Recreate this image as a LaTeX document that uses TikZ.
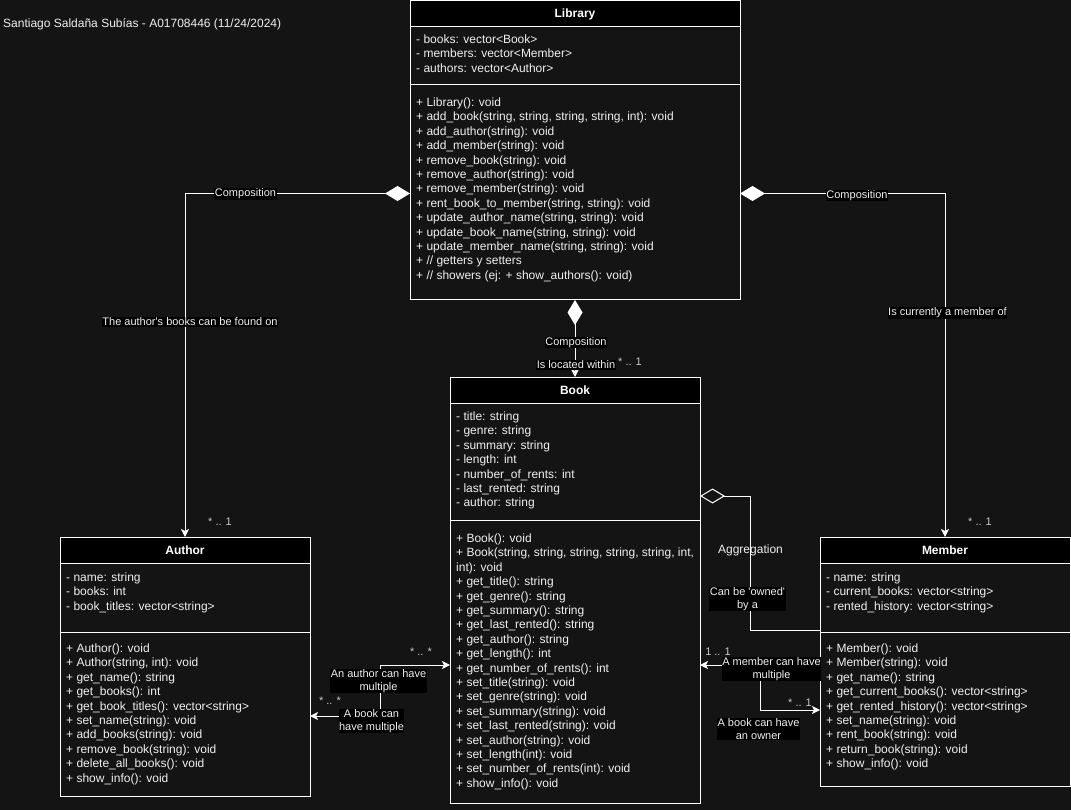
\documentclass[tikz,border=0pt]{standalone}
\usepackage{fontspec}
\setmainfont{Liberation Sans}
\usetikzlibrary{arrows.meta}

\definecolor{canvas}{HTML}{141414}
\definecolor{ink}{HTML}{F0F0F0}
\definecolor{mult}{HTML}{C8C8C8}

\tikzset{
  box/.style={draw=white, line width=1pt, fill=canvas, inner sep=0pt, outer sep=0pt, anchor=north west},
  hdr/.style={draw=white, line width=1pt, fill=black, inner sep=0pt, outer sep=0pt, anchor=north west, minimum height=26pt},
  ttl/.style={text=white, font=\fontsize{12}{14.4}\selectfont\bfseries, inner sep=0pt, yshift=-0.5pt},
  txt/.style={text=ink, font=\fontsize{12}{14.4}\selectfont, align=left, anchor=north west, inner sep=0pt, yshift=4.8pt},
  lbl/.style={fill=black, text=ink, font=\fontsize{11}{13}\selectfont, align=center, inner sep=0.5pt, yshift=-1pt},
  mul/.style={text=mult, font=\fontsize{11}{13}\selectfont, inner sep=0pt, yshift=-1pt},
  wire/.style={draw=white, line width=1pt},
  tip/.tip={Stealth[length=8pt,width=8pt,inset=2pt]},
  comp/.style={wire, {Diamond[length=25pt,width=15pt,fill=white]}-{tip}},
  aggr/.style={wire, {Diamond[open,length=25pt,width=15pt]}-},
  dual/.style={wire, {tip}-{tip}},
}

\begin{document}
\begin{tikzpicture}[x=1pt,y=-1pt]
\useasboundingbox (0,0) rectangle (1071,810);
\fill[canvas] (0,0) rectangle (1071,810);

\node[text=ink, font=\fontsize{12}{14.4}\selectfont, anchor=west, inner sep=0pt] (sig) at (3,24)
  {Santiago Saldaña Subías - A01708446 (11/24/2024)};

% ---------- Library ----------
\node[box, minimum width=330pt, minimum height=299.5pt] (lib) at (410,0.5) {};
\node[hdr, minimum width=330pt] (libh) at (lib.north west) {};
\node[ttl] (libt) at (libh.center) {Library};
\draw[wire] ([yshift=-84.5pt]lib.north west) -- ([yshift=-84.5pt]lib.north east);
\node[txt] (liba) at (416,38) {\strut- books: vector<Book>\\- members: vector<Member>\\- authors: vector<Author>};
\node[txt] (libm) at (416,101) {\strut+ Library(): void\\
+ add\_book(string, string, string, string, int): void\\
+ add\_author(string): void\\
+ add\_member(string): void\\
+ remove\_book(string): void\\
+ remove\_author(string): void\\
+ remove\_member(string): void\\
+ rent\_book\_to\_member(string, string): void\\
+ update\_author\_name(string, string): void\\
+ update\_book\_name(string, string): void\\
+ update\_member\_name(string, string): void\\
+ // getters y setters\\
+ // showers (ej: + show\_authors(): void)};

% ---------- Book ----------
\node[box, minimum width=250pt, minimum height=426pt] (book) at (450,377) {};
\node[hdr, minimum width=250pt] (bookh) at (book.north west) {};
\node[ttl] (bookt) at (bookh.center) {Book};
\draw[wire] ([yshift=-143pt]book.north west) -- ([yshift=-143pt]book.north east);
\node[txt] (booka) at (456,415) {\strut- title: string\\- genre: string\\- summary: string\\- length: int\\- number\_of\_rents: int\\- last\_rented: string\\- author: string};
\node[txt] (bookm) at (456,537) {\strut+ Book(): void\\
+ Book(string, string, string, string, string, int,\\
int): void\\
+ get\_title(): string\\
+ get\_genre(): string\\
+ get\_summary(): string\\
+ get\_last\_rented(): string\\
+ get\_author(): string\\
+ get\_length(): int\\
+ get\_number\_of\_rents(): int\\
+ set\_title(string): void\\
+ set\_genre(string): void\\
+ set\_summary(string): void\\
+ set\_last\_rented(string): void\\
+ set\_author(string): void\\
+ set\_length(int): void\\
+ set\_number\_of\_rents(int): void\\
+ show\_info(): void};

% ---------- Author ----------
\node[box, minimum width=250pt, minimum height=259pt] (author) at (60,537) {};
\node[hdr, minimum width=250pt] (authorh) at (author.north west) {};
\node[ttl] (authort) at (authorh.center) {Author};
\draw[wire] ([yshift=-95pt]author.north west) -- ([yshift=-95pt]author.north east);
\node[txt] (authora) at (66,576) {\strut- name: string\\- books: int\\- book\_titles: vector<string>};
\node[txt] (authorm) at (66,647) {\strut+ Author(): void\\
+ Author(string, int): void\\
+ get\_name(): string\\
+ get\_books(): int\\
+ get\_book\_titles(): vector<string>\\
+ set\_name(string): void\\
+ add\_books(string): void\\
+ remove\_book(string): void\\
+ delete\_all\_books(): void\\
+ show\_info(): void};

% ---------- Member ----------
\node[box, minimum width=250pt, minimum height=249pt] (member) at (820,537) {};
\node[hdr, minimum width=250pt] (memberh) at (member.north west) {};
\node[ttl] (membert) at (memberh.center) {Member};
\draw[wire] ([yshift=-95pt]member.north west) -- ([yshift=-95pt]member.north east);
\node[txt] (membera) at (826,576) {\strut- name: string\\- current\_books: vector<string>\\- rented\_history: vector<string>};
\node[txt] (memberm) at (826,647) {\strut+ Member(): void\\
+ Member(string): void\\
+ get\_name(): string\\
+ get\_current\_books(): vector<string>\\
+ get\_rented\_history(): vector<string>\\
+ set\_name(string): void\\
+ rent\_book(string): void\\
+ return\_book(string): void\\
+ show\_info(): void};

% ---------- connectors ----------
\draw[comp] ([yshift=-193pt]lib.north west) -| (author.north);
\draw[comp] ([yshift=-193pt]lib.north east) -| (member.north);
\draw[comp] (lib.south) -- (book.north);
\draw[aggr] ([yshift=-119pt]book.north east) -- ++(50,0) |- ([yshift=-93pt]member.north west);

\coordinate (abk) at (380.5,665);
\draw[dual] ([yshift=-179pt]author.north east) -| (abk) -- ([yshift=-288pt]book.north west);
\coordinate (bmk) at (760.5,665);
\draw[dual] ([yshift=-288pt]book.north east) -- (bmk) |- ([yshift=-173pt]member.north west);

% ---------- labels ----------
\node[lbl] (l1) at (245.5,193) {Composition};
\node[lbl] (l2) at (190,321) {The author\textquotesingle s books can be found on};
\node[mul] (m1) at (220,521) {* .. 1};
\node[lbl] (l3) at (857,194.5) {Composition};
\node[lbl] (l4) at (947.5,312) {Is currently a member of};
\node[mul] (m2) at (980,521) {* .. 1};
\node[lbl] (l5) at (576,341.5) {Composition};
\node[lbl] (l6) at (576,364) {Is located within};
\node[mul] (m3) at (630,361) {* .. 1};
\node[lbl, fill=none, font=\fontsize{12}{14.4}\selectfont] (l7) at (750.5,549) {Aggregation};
\node[lbl] (l8) at (747.5,598) {Can be \textquotesingle owned\textquotesingle\\by a};
\node[lbl] (l9) at (378.5,680) {An author can have\\multiple};
\node[lbl] (l10) at (371.5,720) {A book can\\have multiple};
\node[mul] (m4) at (421,651) {* .. *};
\node[mul] (m5) at (330,700) {* .. *};
\node[lbl] (l11) at (771.5,668) {A member can have\\multiple};
\node[lbl] (l12) at (758.5,728) {A book can have\\an owner};
\node[mul] (m6) at (718,651) {1 .. 1};
\node[mul] (m7) at (800,702) {* .. 1};
\end{tikzpicture}
\end{document}
